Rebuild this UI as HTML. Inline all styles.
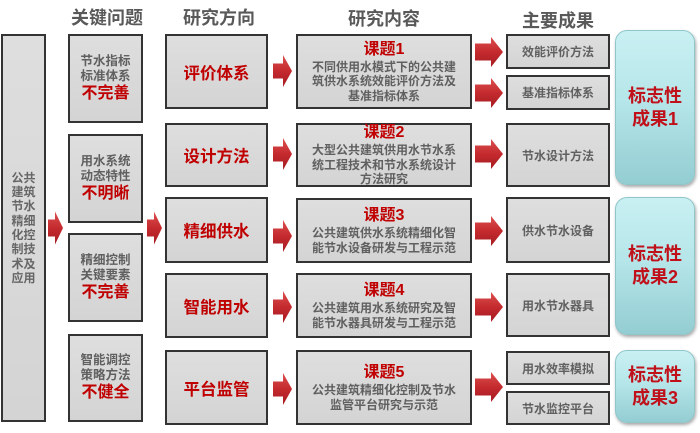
<!DOCTYPE html>
<html><head><meta charset="utf-8">
<style>
*{margin:0;padding:0;box-sizing:border-box}
html,body{width:700px;height:433px;background:#fff;overflow:hidden}
body{position:relative;font-family:"Liberation Sans","Noto Sans CJK SC","WenQuanYi Zen Hei",sans-serif;font-weight:bold}
.b{position:absolute;background:linear-gradient(#dedede,#d4d4d4);border:2px solid #333;display:flex;flex-direction:column;align-items:center;justify-content:center;text-align:center;color:#606060}
.h{position:absolute;font-size:18px;color:#595959;text-align:center;line-height:20px}
.g{font-size:12.5px;line-height:15px}
.r{color:#c00000;font-size:16px;line-height:20px}
.rd{color:#c00000;font-size:16.5px}
.c{font-size:12px;line-height:14.5px}
.cr{color:#c00000;font-size:16px;line-height:20px}
.res{font-size:12px}
.t{position:absolute;border-radius:12px;background:linear-gradient(#c9f0f3,#b6e6e9 45%,#93cdd2);border:1px solid #8fc6ca;box-shadow:1px 2px 3px rgba(0,0,0,.35);display:flex;align-items:center;justify-content:center;text-align:center;color:#c0101a;font-size:18px;line-height:23px}
</style></head><body>

<div class="h" style="left:62px;top:8px;width:90px">关键问题</div>
<div class="h" style="left:173px;top:8px;width:92px">研究方向</div>
<div class="h" style="left:338px;top:9px;width:92px">研究内容</div>
<div class="h" style="left:512px;top:11px;width:92px">主要成果</div>

<div class="b" style="left:1px;top:34px;width:45px;height:388px;font-size:12px;line-height:14.3px;color:#666">公共<br>建筑<br>节水<br>精细<br>化控<br>制技<br>术及<br>应用</div>

<div class="b" style="left:68px;top:34px;width:75px;height:89px"><div class="g">节水指标<br>标准体系</div><div class="r">不完善</div></div>
<div class="b" style="left:68px;top:134px;width:75px;height:89px"><div class="g">用水系统<br>动态特性</div><div class="r">不明晰</div></div>
<div class="b" style="left:68px;top:233px;width:75px;height:89px"><div class="g">精细控制<br>关键要素</div><div class="r">不完善</div></div>
<div class="b" style="left:68px;top:334px;width:75px;height:88px"><div class="g">智能调控<br>策略方法</div><div class="r">不健全</div></div>

<div class="b rd" style="left:165px;top:34px;width:103px;height:75px">评价体系</div>
<div class="b rd" style="left:165px;top:123px;width:103px;height:64px">设计方法</div>
<div class="b rd" style="left:165px;top:197px;width:103px;height:66px">精细供水</div>
<div class="b rd" style="left:165px;top:273px;width:103px;height:65px">智能用水</div>
<div class="b rd" style="left:165px;top:350px;width:103px;height:75px">平台监管</div>

<div class="b" style="left:296px;top:34px;width:176px;height:75px"><div class="cr">课题1</div><div class="c">不同供用水模式下的公共建<br>筑供水系统效能评价方法及<br>基准指标体系</div></div>
<div class="b" style="left:296px;top:123px;width:176px;height:64px"><div class="cr">课题2</div><div class="c">大型公共建筑供用水节水系<br>统工程技术和节水系统设计<br>方法研究</div></div>
<div class="b" style="left:296px;top:198px;width:176px;height:65px"><div class="cr">课题3</div><div class="c">公共建筑供水系统精细化智<br>能节水设备研发与工程示范</div></div>
<div class="b" style="left:296px;top:273px;width:176px;height:65px"><div class="cr">课题4</div><div class="c">公共建筑用水系统研究及智<br>能节水器具研发与工程示范</div></div>
<div class="b" style="left:296px;top:350px;width:176px;height:75px"><div class="cr">课题5</div><div class="c">公共建筑精细化控制及节水<br>监管平台研究与示范</div></div>

<div class="b res" style="left:506px;top:34px;width:104px;height:35px">效能评价方法</div>
<div class="b res" style="left:506px;top:75px;width:104px;height:35px">基准指标体系</div>
<div class="b res" style="left:506px;top:123px;width:104px;height:64px">节水设计方法</div>
<div class="b res" style="left:506px;top:197px;width:104px;height:66px">供水节水设备</div>
<div class="b res" style="left:506px;top:273px;width:104px;height:64px">用水节水器具</div>
<div class="b res" style="left:506px;top:351px;width:104px;height:34px">用水效率模拟</div>
<div class="b res" style="left:506px;top:391px;width:104px;height:34px">节水监控平台</div>

<div class="t" style="left:615px;top:30px;width:80px;height:155px">标志性<br>成果1</div>
<div class="t" style="left:615px;top:197px;width:80px;height:138px">标志性<br>成果2</div>
<div class="t" style="left:615px;top:350px;width:80px;height:73px">标志性<br>成果3</div>

<svg width="700" height="433" style="position:absolute;left:0;top:0" xmlns="http://www.w3.org/2000/svg">
<defs>
<linearGradient id="ag" x1="0" y1="0" x2="0" y2="1">
<stop offset="0" stop-color="#dc5050"/>
<stop offset="0.5" stop-color="#c42a2e"/>
<stop offset="1" stop-color="#a51c22"/>
</linearGradient>
</defs>
<g fill="url(#ag)">
<polygon points="48,219.5 55,219.5 55,211.5 63,228 55,244.5 55,236.5 48,236.5"/>
<polygon points="147,219.5 154,219.5 154,211.5 162,228 154,244.5 154,236.5 147,236.5"/>

<polygon points="273,63.5 283,63.5 283,55 292,71 283,87 283,78.5 273,78.5"/>
<polygon points="273,146.5 283,146.5 283,138 292,154 283,170 283,161.5 273,161.5"/>
<polygon points="273,228.5 283,228.5 283,220 292,236 283,252 283,243.5 273,243.5"/>
<polygon points="273,299.5 283,299.5 283,291 292,307 283,323 283,314.5 273,314.5"/>
<polygon points="273,381.5 283,381.5 283,373 292,389 283,405 283,396.5 273,396.5"/>

<polygon points="475,43.5 491,43.5 491,37 503,52 491,67 491,60.5 475,60.5"/>
<polygon points="475,84.5 491,84.5 491,78 503,93 491,108 491,101.5 475,101.5"/>
<polygon points="475,145.5 491,145.5 491,139 503,154 491,169 491,162.5 475,162.5"/>
<polygon points="475,222.5 491,222.5 491,216 503,231 491,246 491,239.5 475,239.5"/>
<polygon points="475,298.5 491,298.5 491,292 503,307 491,322 491,315.5 475,315.5"/>
<polygon points="475,378.5 491,378.5 491,372 503,387 491,402 491,395.5 475,395.5"/>
</g>
</svg>
</body></html>
